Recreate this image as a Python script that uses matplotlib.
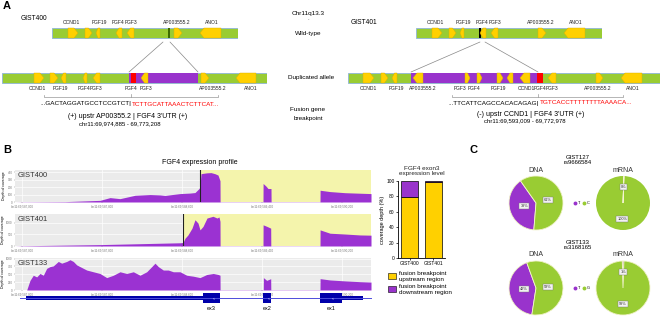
import matplotlib
matplotlib.use("Agg")
import matplotlib.pyplot as plt
from matplotlib.patches import Polygon, Rectangle, ConnectionPatch, Circle
from matplotlib.lines import Line2D

plt.rcParams['font.family'] = ['Liberation Sans', 'DejaVu Sans']

W, H = 660, 316
GREEN = '#99cc33'
YELLOW = '#ffd000'
PURPLE = '#9933cc'
COV = '#9b32d2'

# ---------------- panel A data (positions along each bar) ----------------
# (start, end, strand)
wt_genes = [(16, 26, 1), (33, 40, 1), (44, 48, -1), (64, 70, -1), (75, 82, -1),
            (122, 130, 1), (148, 169, -1)]
wt_labels = ["CCND1", "FGF19", "FGF4", "FGF3", "AP003555.2", "ANO1"]
wt_label_pos = [19, 47, 66, 79, 125, 160]

dup400_genes = [(32, 42, 1), (48, 56, 1), (59, 64, -1), (81, 85, -1), (91, 98, -1),
                (139, 146, -1), (199, 207, 1), (234, 254, -1)]
dup400_labels = ["CCND1", "FGF19", "FGF4", "FGF3", "FGF4", "FGF3", "AP003555.2", "ANO1"]
dup400_label_pos = [35, 58, 82, 94, 129, 144, 211, 249]
dup400_purple = (127, 196)
dup400_red = (129, 134)

dup401_genes = [(15, 26, 1), (33, 40, 1), (44, 49, -1), (65, 75, -1), (117, 122, 1),
                (129, 134, 1), (149, 155, 1), (159, 165, -1), (172, 182, -1),
                (200, 208, -1), (248, 255, 1), (273, 294, -1)]
dup401_labels = ["CCND1", "FGF19", "AP003555.2", "FGF3", "FGF4", "FGF19", "CCND1",
                 "FGF4", "FGF3", "AP003555.2", "ANO1"]
dup401_label_pos = [20, 48, 75, 112, 126, 150, 178, 192, 204, 250, 285]
dup401_purple = (63, 190)
dup401_red = (189, 195)

# ---------------- panel B data ----------------
# positions in bp from region start, depth of coverage
g400_x = [0, 70, 500, 850, 950, 1050, 1200, 1350, 1450, 1500, 1650, 1750, 1800, 1840, 1850,
          1860, 1880, 1920, 1960, 2000, 2030, 2050, 2051, 2480, 2481, 2510, 2530, 2560, 2561,
          3050, 3051, 3150, 3300, 3450, 3560]
g400_y = [0, 2, 5, 22, 59, 45, 90, 100, 95, 88, 113, 120, 127, 181, 200,
          380, 385, 392, 395, 380, 362, 285, 3, 3, 249, 213, 181, 181, 3,
          3, 158, 140, 125, 118, 113]
g401_x = [0, 70, 850, 1650, 1680, 1700, 1730, 1770, 1800, 1830, 1850, 1880, 1920, 1980, 2020,
          2040, 2050, 2051, 2480, 2481, 2520, 2557, 2558, 3050, 3051, 3150, 3300, 3450, 3560]
g401_y = [0, 10, 60, 140, 150, 336, 483, 775, 1140, 995, 700, 850, 1215, 1290, 1215,
          1260, 1070, 8, 8, 920, 850, 775, 8, 8, 700, 555, 520, 480, 470]
g133_x = [0, 117, 150, 183, 217, 250, 283, 317, 350, 383, 433, 467, 517, 550, 583, 617, 650,
          717, 783, 850, 917, 983, 1050, 1117, 1183, 1250, 1317, 1367, 1400, 1433, 1483,
          1533, 1583, 1650, 1717, 1783, 1850, 1917, 1983, 2033, 2050, 2051, 2483, 2484,
          2517, 2557, 2558, 3050, 3051, 3150, 3300, 3450, 3560]
g133_y = [0, 0, 307, 470, 417, 526, 470, 690, 745, 768, 910, 855, 910, 965, 910, 800, 745,
          636, 581, 526, 395, 470, 581, 526, 581, 470, 581, 745, 855, 745, 636,
          636, 581, 581, 470, 440, 395, 493, 526, 493, 470, 8, 8, 395,
          307, 360, 8, 8, 362, 320, 290, 265, 252]
cov_names = ["GIST400", "GIST401", "GIST133"]
cov_ymax = [430, 1390, 1020]
cov_yticks = [[0, 100, 200, 300, 400], [0, 500, 1000], [0, 250, 500, 750, 1000]]
breakpoints = [1850, 1680, None]
tick_pos = [70, 870, 1670, 2470, 3270]
tick_lab = ["chr11:69,587,000", "chr11:69,587,800", "chr11:69,588,600",
            "chr11:69,589,400", "chr11:69,590,200"]
exons = [(1880, 2050, "ex3"), (2480, 2560, "ex2"), (3050, 3270, "ex1")]
utrs = [(110, 1880), (3270, 3480)]

# bar chart
bar_samples = ["GIST400", "GIST401"]
upstream = [79, 98.5]
downstream = [21, 1.5]

# pies
pie_titles = ["GIST127\nrs9666584", "GIST133\nrs3168165"]
pie_alleles = [("T", "C"), ("T", "G")]
dna_vals = [[39, 61], [42, 58]]
rna_vals = [[0, 100], [1, 99]]
dna_start = [125, 110]


def rect(x, y, w, h):
    return [x / W, 1 - (y + h) / H, w / W, h / H]


fig = plt.figure(figsize=(6.6, 3.16), dpi=100)
over = fig.add_axes([0, 0, 1, 1])
over.set_xlim(0, W)
over.set_ylim(H, 0)
over.axis('off')


def track(x0, yc, length, genes, labels, label_pos, above, purple=None, red=None, marker=None,
          marker_col='k'):
    ax = fig.add_axes(rect(x0, yc - 7, length, 14))
    ax.set_xlim(0, length)
    ax.set_ylim(7, -7)
    ax.axis('off')
    ax.add_patch(Rectangle((0, -5), length, 10, fc=GREEN, ec='#8fb4d9', lw=0.6, zorder=1))
    if purple:
        ax.add_patch(Rectangle((purple[0], -5), purple[1] - purple[0], 10, fc=PURPLE, lw=0, zorder=2))
    if red:
        ax.add_patch(Rectangle((red[0], -5), red[1] - red[0], 10, fc='red', lw=0, zorder=3))
    if marker is not None:
        ax.add_patch(Rectangle((marker - 0.6, -5), 1.2, 10, fc=marker_col, lw=0, zorder=3))
    for s, e, d in genes:
        hl = min(4, (e - s) * 0.5)
        if d == 1:
            pts = [(s, -5), (e - hl, -5), (e, 0), (e - hl, 5), (s, 5)]
        else:
            pts = [(e, -5), (s + hl, -5), (s, 0), (s + hl, 5), (e, 5)]
        ax.add_patch(Polygon(pts, closed=True, fc=YELLOW, ec='#d9b000', lw=0.3, zorder=4))
    for lab, p in zip(labels, label_pos):
        ax.text(p, -8.5 if above else 8.5, lab, fontsize=3.6, ha='center',
                va='bottom' if above else 'top', color='#222')
    return ax


wt400 = track(52, 33, 186, wt_genes, wt_labels, wt_label_pos, True, marker=117, marker_col='#3d6b00')
wt401 = track(416, 33, 186, wt_genes, wt_labels, wt_label_pos, True, marker=64)
d400 = track(2, 78, 265, dup400_genes, dup400_labels, dup400_label_pos, False,
             purple=dup400_purple, red=dup400_red)
d401 = track(348, 78, 312, dup401_genes, dup401_labels, dup401_label_pos, False,
             purple=dup401_purple, red=dup401_red)

for a_wt, a_d, xs_wt, xs_d in [(wt400, d400, (111, 118), dup400_purple),
                               (wt401, d401, (64, 69), dup401_purple)]:
    for xw, xd in zip(xs_wt, xs_d):
        fig.add_artist(ConnectionPatch(xyA=(xw, 9), coordsA=a_wt.transData,
                                       xyB=(xd, -6), coordsB=a_d.transData,
                                       color='#888', lw=0.5))

# brackets
for ax, x0, x1, xc in [(d400, 42, 216, 129), (d401, 104, 275, 190)]:
    ax.plot([x0, x0, x1, x1], [17, 19, 19, 17], color='#999', lw=0.5, clip_on=False)
    ax.plot([xc, xc], [19, 15.5], color='#999', lw=0.5, clip_on=False)

# sequences and breakpoint text
seq_fs = 4.6
over.text(131, 104, "...GACTAGGATGCCTCCGTCT|", ha='right', va='center', fontsize=seq_fs)
over.text(131.5, 104, "TCTTGCATTAAACTCTTCAT...", ha='left', va='center', fontsize=seq_fs, color='red')
over.text(128, 117, "(+) upstr AP00355.2 | FGF4 3'UTR (+)", ha='center', va='center', fontsize=5)
over.text(120, 123.5, "chr11:69,974,885 - 69,773,208", ha='center', va='center', fontsize=4.3)
over.text(539, 103, "...TTCATTCAGCCACACAGAG|", ha='right', va='center', fontsize=seq_fs)
over.text(539.5, 103, "TGTCACCTTTTTTTTAAAACA...", ha='left', va='center', fontsize=seq_fs, color='red')
over.text(531, 115, "(-) upstr CCND1 | FGF4 3'UTR (+)", ha='center', va='center', fontsize=5)
over.text(525, 121, "chr11:69,593,009 - 69,772,978", ha='center', va='center', fontsize=4.3)

over.text(21, 18, "GIST400", fontsize=4.8, va='center')
over.text(351, 23, "GIST401", fontsize=4.8, va='center')
over.text(308, 14, "Chr11q13.3", fontsize=4.6, ha='center', va='center')
over.text(308, 19.5, "-", fontsize=3, ha='center', va='center')
over.text(308, 33, "Wild-type", fontsize=4.6, ha='center', va='center')
over.text(311, 77, "Duplicated allele", fontsize=4.6, ha='center', va='center')
over.text(308, 110, "Fusion gene", fontsize=4.6, ha='center', va='center')
over.text(308, 118.5, "breakpoint", fontsize=4.6, ha='center', va='center')
for lab, x, y in [("A", 3, 6), ("B", 3, 150), ("C", 469, 150)]:
    over.text(x, y, lab, fontsize=8, fontweight='bold', va='center')

# ---------------- panel B ----------------
over.text(200, 162, "FGF4 expression profile", fontsize=5, ha='center', va='center')
cov_x = [g400_x, g401_x, g133_x]
cov_y = [g400_y, g401_y, g133_y]
tops = [170, 214, 258]
for name, xs, ys, ymax, yt, bp, top in zip(cov_names, cov_x, cov_y, cov_ymax, cov_yticks,
                                           breakpoints, tops):
    ax = fig.add_axes(rect(15, top, 356, 32))
    ax.set_facecolor('#ebebeb')
    ax.set_axisbelow(True)
    ax.grid(color='white', lw=0.5)
    if bp is not None:
        ax.axvspan(bp, 3560, color='#f4f4ac', lw=0, zorder=1)
        ax.axvline(bp, color='#222', lw=0.8, zorder=3)
    ax.fill_between(xs, ys, color=COV, lw=0, zorder=2)
    ax.set_xlim(0, 3560)
    ax.set_ylim(0, ymax)
    ax.set_xticks(tick_pos)
    ax.set_xticklabels(tick_lab, fontsize=2.2, color='#555')
    ax.set_yticks(yt)
    ax.set_yticklabels([str(v) for v in yt], fontsize=2.2, color='#555')
    ax.tick_params(length=1, width=0.3, pad=0.8, colors='#777')
    for s in ax.spines.values():
        s.set_visible(False)
    ax.set_ylabel("Depth of coverage", fontsize=2.5, labelpad=1)
    ax.text(0.008, 0.93, name, transform=ax.transAxes, fontsize=5.4, va='top', color='#333')

gm = fig.add_axes(rect(15, 292, 356, 12))
gm.set_xlim(0, 3560)
gm.set_ylim(-1, 1)
gm.axis('off')
gm.plot([50, 3560], [0, 0], color='#4d4ddb', lw=0.7, clip_on=False)
for s, e in utrs:
    gm.add_patch(Rectangle((s, -0.38), e - s, 0.76, fc='#0000aa', lw=0))
for s, e, lab in exons:
    gm.add_patch(Rectangle((s, -0.8), e - s, 1.6, fc='#0000aa', lw=0))
    gm.text((s + e) / 2 + 20, 0, "<", color='white', fontsize=2.5, ha='center', va='center')
    gm.text((s + e) / 2, -1.3, lab, fontsize=4, ha='center', va='top')

# bar chart
bx = fig.add_axes(rect(398, 181, 47, 77))
bx.bar(bar_samples, upstream, width=0.74, color=YELLOW, edgecolor='black', lw=0.5)
bx.bar(bar_samples, downstream, bottom=upstream, width=0.74, color=PURPLE, edgecolor='black', lw=0.5)
bx.set_xlim(-0.5, 1.5)
bx.set_ylim(0, 100)
bx.set_yticks([0, 20, 40, 60, 80, 100])
bx.tick_params(labelsize=3.5, length=1.5, width=0.5, pad=1)
bx.set_ylabel("coverage depth (%)", fontsize=4, labelpad=1)
bx.spines['top'].set_visible(False)
bx.spines['right'].set_visible(False)
for s in ['left', 'bottom']:
    bx.spines[s].set_linewidth(0.6)
bx.set_title("FGF4 exon3\nexpression level", fontsize=4.6, pad=4, color='#222')
fig.legend([Rectangle((0, 0), 1, 1, fc=YELLOW, ec='k', lw=0.4),
            Rectangle((0, 0), 1, 1, fc=PURPLE, ec='k', lw=0.4)],
           ["fusion breakpoint\nupstream region", "fusion breakpoint\ndownstream region"],
           loc='upper left', bbox_to_anchor=(385 / W, 1 - 268 / H), frameon=False,
           fontsize=4.5, handlelength=1.3, handleheight=1.1, handletextpad=0.5,
           labelspacing=0.3, borderpad=0)

# ---------------- panel C ----------------
pie_rows = [203, 288]
box = dict(boxstyle='square,pad=0.25', fc='#f2f2f2', ec='#777', lw=0.3)
for title, al, dv, rv, st, yc in zip(pie_titles, pie_alleles, dna_vals, rna_vals,
                                     dna_start, pie_rows):
    over.text(578, yc - 43, title, fontsize=4.3, ha='center', va='center', linespacing=1.2)
    for xc, vals, start, lab, pd in [(536, dv, st, "DNA", 0.45), (623, rv, 88, "mRNA", 0.58)]:
        pa = fig.add_axes(rect(xc - 27, yc - 27, 54, 54))
        cols = [PURPLE, GREEN]
        # backdrop in the colour of the larger slice (a 100% wedge may not fill)
        pa.add_patch(Circle((0, 0), 1, fc=cols[vals.index(max(vals))], lw=0, zorder=0))
        w, t, at = pa.pie(vals, colors=cols, startangle=start, counterclock=True,
                          autopct='%d%%', pctdistance=pd,
                          wedgeprops=dict(edgecolor='#f4f4d0', lw=0.6),
                          textprops=dict(fontsize=2.8, color='#333'))
        for a in at:
            a.set_bbox(box)
        pa.set_xlim(-1, 1)
        pa.set_ylim(-1, 1)
        over.text(xc, yc - 33, lab, fontsize=5, ha='center', va='center', color='#333')
    fig.legend([Line2D([], [], ls='', marker='o', ms=1.8, color=PURPLE),
                Line2D([], [], ls='', marker='o', ms=1.8, color=GREEN)], list(al),
               loc='center', bbox_to_anchor=(582 / W, 1 - yc / H), ncol=2, frameon=False,
               fontsize=2.8, handlelength=0.6, handletextpad=0.3, columnspacing=0.8,
               borderpad=0)

fig.savefig("out.png", dpi=100)
